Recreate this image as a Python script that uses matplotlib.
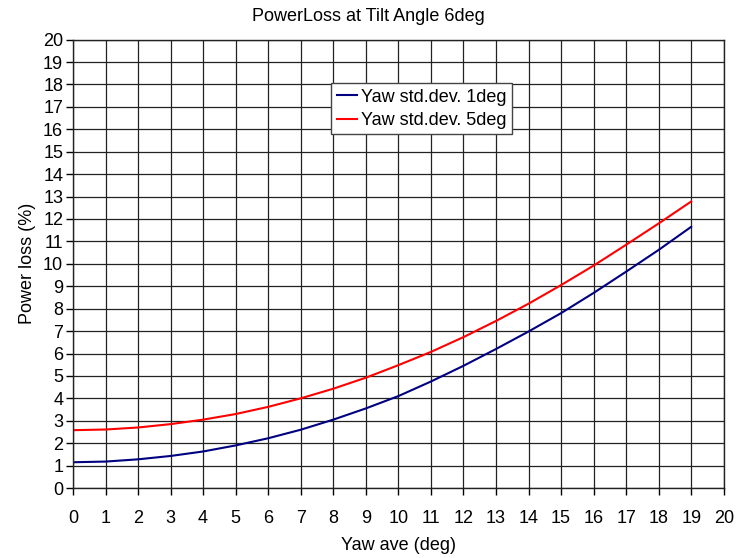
import matplotlib
matplotlib.use("Agg")
import matplotlib.pyplot as plt

plt.rcParams['font.family'] = ['Liberation Sans', 'DejaVu Sans']

# yaw average (deg) and power loss (%) for two yaw std.dev. values
yaw_ave = list(range(0, 20))
loss_std1 = [1.15, 1.18, 1.28, 1.43, 1.63, 1.90, 2.22, 2.60, 3.05, 3.55,
             4.10, 4.75, 5.45, 6.20, 6.98, 7.80, 8.70, 9.65, 10.62, 11.65]
loss_std5 = [2.58, 2.61, 2.70, 2.85, 3.05, 3.30, 3.62, 4.00, 4.43, 4.92,
             5.48, 6.07, 6.73, 7.45, 8.22, 9.05, 9.92, 10.85, 11.80, 12.78]

fs = 13

fig = plt.figure(figsize=(7.37, 5.58), dpi=100)
ax = fig.add_axes([0.099, 0.1254, 0.883, 0.8036])

ax.plot(yaw_ave, loss_std1, color='#000080', lw=1.5, label='Yaw std.dev. 1deg')
ax.plot(yaw_ave, loss_std5, color='#ff0000', lw=1.5, label='Yaw std.dev. 5deg')

ax.set_xlim(0, 20)
ax.set_ylim(0, 20)
ax.set_xticks(range(0, 21))
ax.set_yticks(range(0, 21))
ax.grid(True, color='#222222', lw=0.9)
ax.set_axisbelow(True)
for s in ax.spines.values():
    s.set_color('#222222')
    s.set_linewidth(1.0)
ax.tick_params(direction='out', length=5, width=1, labelsize=fs, colors='black')
ax.tick_params(axis='x', pad=11)
ax.tick_params(axis='y', pad=2)

# title is centred on the whole figure, not the axes
fig.suptitle('PowerLoss at Tilt Angle 6deg', fontsize=fs, x=0.5, y=0.985, va='top')
ax.set_xlabel('Yaw ave (deg)', fontsize=fs, labelpad=7)
ax.set_ylabel('Power loss (%)', fontsize=fs, labelpad=5)

leg = ax.legend(loc='upper left', bbox_to_anchor=(0.397, 0.903), fontsize=fs,
                handlelength=1.1, handletextpad=0.25, borderpad=0.3,
                labelspacing=0.35, fancybox=False, framealpha=1,
                edgecolor='#444444', borderaxespad=0)
leg.get_frame().set_linewidth(1.0)

fig.savefig('out.png', dpi=100)
